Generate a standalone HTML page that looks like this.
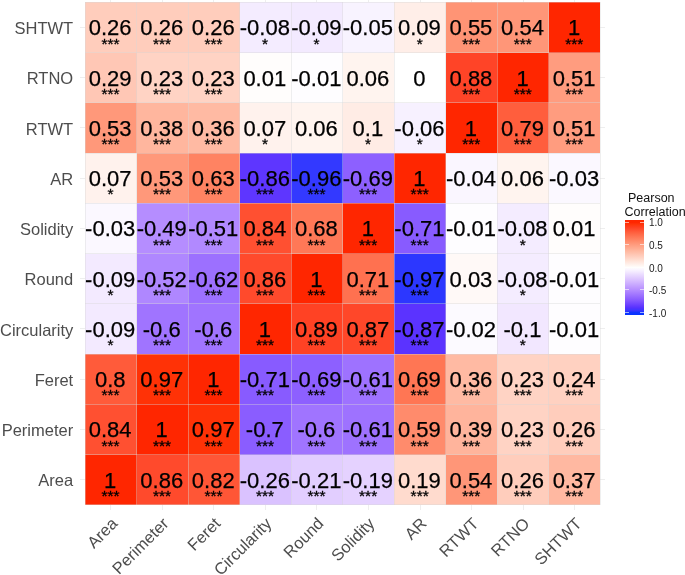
<!DOCTYPE html>
<html lang="en"><head><meta charset="utf-8"><title>Pearson Correlation heatmap</title>
<style>
html,body{margin:0;padding:0;background:#fff;}
body{width:685px;height:575px;position:relative;overflow:hidden;font-family:"Liberation Sans",Arial,sans-serif;}
.c{position:absolute;box-sizing:border-box;}
.n{position:absolute;left:-20.6px;right:-19.4px;-webkit-text-stroke:0.25px #000;text-align:center;color:#000;font-size:22.0px;line-height:22.0px;white-space:nowrap;}
.s{position:absolute;left:-20.35px;right:-19.65px;-webkit-text-stroke:0.3px #000;text-align:center;color:#000;font-size:15.5px;line-height:15.5px;white-space:nowrap;}
.yl{position:absolute;left:0;width:73.2px;text-align:right;color:#4d4d4d;font-size:16.5px;line-height:20px;height:20px;white-space:nowrap;}
.xl{position:absolute;color:#4d4d4d;font-size:16.5px;line-height:19px;height:19px;white-space:nowrap;transform-origin:100% 0;transform:rotate(-45deg);text-align:right;width:140px;}
.g{position:absolute;background:#eeeeee;}
.vl{position:absolute;background:rgba(214,214,214,0.4);width:1px;}
.hl{position:absolute;background:rgba(214,214,214,0.4);height:1px;}
.lt{position:absolute;color:#111;font-size:12.5px;line-height:13.6px;white-space:nowrap;}
.ll{position:absolute;left:649px;color:#1a1a1a;font-size:10px;line-height:12px;height:12px;white-space:nowrap;}
.tk{position:absolute;height:1px;width:4px;background:rgba(255,255,255,0.6);}

</style></head><body><div id="plot" style="position:absolute;left:0;top:0;width:685px;height:575px">
<div class="g" style="left:110.27px;top:0;width:1px;height:509.90px"></div>
<div class="g" style="top:26.88px;left:80.00px;height:1px;width:525.40px"></div>
<div class="g" style="left:161.81px;top:0;width:1px;height:509.90px"></div>
<div class="g" style="top:77.15px;left:80.00px;height:1px;width:525.40px"></div>
<div class="g" style="left:213.35px;top:0;width:1px;height:509.90px"></div>
<div class="g" style="top:127.41px;left:80.00px;height:1px;width:525.40px"></div>
<div class="g" style="left:264.89px;top:0;width:1px;height:509.90px"></div>
<div class="g" style="top:177.68px;left:80.00px;height:1px;width:525.40px"></div>
<div class="g" style="left:316.43px;top:0;width:1px;height:509.90px"></div>
<div class="g" style="top:227.94px;left:80.00px;height:1px;width:525.40px"></div>
<div class="g" style="left:367.97px;top:0;width:1px;height:509.90px"></div>
<div class="g" style="top:278.21px;left:80.00px;height:1px;width:525.40px"></div>
<div class="g" style="left:419.51px;top:0;width:1px;height:509.90px"></div>
<div class="g" style="top:328.47px;left:80.00px;height:1px;width:525.40px"></div>
<div class="g" style="left:471.05px;top:0;width:1px;height:509.90px"></div>
<div class="g" style="top:378.74px;left:80.00px;height:1px;width:525.40px"></div>
<div class="g" style="left:522.59px;top:0;width:1px;height:509.90px"></div>
<div class="g" style="top:429.00px;left:80.00px;height:1px;width:525.40px"></div>
<div class="g" style="left:574.13px;top:0;width:1px;height:509.90px"></div>
<div class="g" style="top:479.27px;left:80.00px;height:1px;width:525.40px"></div>
<div class="c" style="left:85.00px;top:2.25px;width:51.59px;height:50.31px;background:#ffcdbc">
<div class="n" style="top:15.03px">0.26</div>
<div class="s" style="top:33.32px">***</div>
</div>
<div class="c" style="left:136.54px;top:2.25px;width:51.59px;height:50.31px;background:#ffcdbc">
<div class="n" style="top:15.03px">0.26</div>
<div class="s" style="top:33.32px">***</div>
</div>
<div class="c" style="left:188.08px;top:2.25px;width:51.59px;height:50.31px;background:#ffcdbc">
<div class="n" style="top:15.03px">0.26</div>
<div class="s" style="top:33.32px">***</div>
</div>
<div class="c" style="left:239.62px;top:2.25px;width:51.59px;height:50.31px;background:#f4ecff">
<div class="n" style="top:15.03px">-0.08</div>
<div class="s" style="top:33.32px">*</div>
</div>
<div class="c" style="left:291.16px;top:2.25px;width:51.59px;height:50.31px;background:#f3eaff">
<div class="n" style="top:15.03px">-0.09</div>
<div class="s" style="top:33.32px">*</div>
</div>
<div class="c" style="left:342.70px;top:2.25px;width:51.59px;height:50.31px;background:#f8f3ff">
<div class="n" style="top:15.03px">-0.05</div>
</div>
<div class="c" style="left:394.24px;top:2.25px;width:51.59px;height:50.31px;background:#ffeee8">
<div class="n" style="top:15.03px">0.09</div>
<div class="s" style="top:33.32px">*</div>
</div>
<div class="c" style="left:445.78px;top:2.25px;width:51.59px;height:50.31px;background:#ff9475">
<div class="n" style="top:15.03px">0.55</div>
<div class="s" style="top:33.32px">***</div>
</div>
<div class="c" style="left:497.32px;top:2.25px;width:51.59px;height:50.31px;background:#ff9678">
<div class="n" style="top:15.03px">0.54</div>
<div class="s" style="top:33.32px">***</div>
</div>
<div class="c" style="left:548.86px;top:2.25px;width:51.59px;height:50.31px;background:#ff2600">
<div class="n" style="top:15.03px">1</div>
<div class="s" style="top:33.32px">***</div>
</div>
<div class="c" style="left:85.00px;top:52.52px;width:51.59px;height:50.31px;background:#ffc7b5">
<div class="n" style="top:15.03px">0.29</div>
<div class="s" style="top:33.32px">***</div>
</div>
<div class="c" style="left:136.54px;top:52.52px;width:51.59px;height:50.31px;background:#ffd3c4">
<div class="n" style="top:15.03px">0.23</div>
<div class="s" style="top:33.32px">***</div>
</div>
<div class="c" style="left:188.08px;top:52.52px;width:51.59px;height:50.31px;background:#ffd3c4">
<div class="n" style="top:15.03px">0.23</div>
<div class="s" style="top:33.32px">***</div>
</div>
<div class="c" style="left:239.62px;top:52.52px;width:51.59px;height:50.31px;background:#fffdfc">
<div class="n" style="top:15.03px">0.01</div>
</div>
<div class="c" style="left:291.16px;top:52.52px;width:51.59px;height:50.31px;background:#fefdff">
<div class="n" style="top:15.03px">-0.01</div>
</div>
<div class="c" style="left:342.70px;top:52.52px;width:51.59px;height:50.31px;background:#fff4ef">
<div class="n" style="top:15.03px">0.06</div>
</div>
<div class="c" style="left:394.24px;top:52.52px;width:51.59px;height:50.31px;background:#ffffff">
<div class="n" style="top:15.03px">0</div>
</div>
<div class="c" style="left:445.78px;top:52.52px;width:51.59px;height:50.31px;background:#ff4427">
<div class="n" style="top:15.03px">0.88</div>
<div class="s" style="top:33.32px">***</div>
</div>
<div class="c" style="left:497.32px;top:52.52px;width:51.59px;height:50.31px;background:#ff2600">
<div class="n" style="top:15.03px">1</div>
<div class="s" style="top:33.32px">***</div>
</div>
<div class="c" style="left:548.86px;top:52.52px;width:51.59px;height:50.31px;background:#ff9c7f">
<div class="n" style="top:15.03px">0.51</div>
<div class="s" style="top:33.32px">***</div>
</div>
<div class="c" style="left:85.00px;top:102.78px;width:51.59px;height:50.31px;background:#ff987a">
<div class="n" style="top:15.03px">0.53</div>
<div class="s" style="top:33.32px">***</div>
</div>
<div class="c" style="left:136.54px;top:102.78px;width:51.59px;height:50.31px;background:#ffb69e">
<div class="n" style="top:15.03px">0.38</div>
<div class="s" style="top:33.32px">***</div>
</div>
<div class="c" style="left:188.08px;top:102.78px;width:51.59px;height:50.31px;background:#ffbaa3">
<div class="n" style="top:15.03px">0.36</div>
<div class="s" style="top:33.32px">***</div>
</div>
<div class="c" style="left:239.62px;top:102.78px;width:51.59px;height:50.31px;background:#fff2ed">
<div class="n" style="top:15.03px">0.07</div>
<div class="s" style="top:33.32px">*</div>
</div>
<div class="c" style="left:291.16px;top:102.78px;width:51.59px;height:50.31px;background:#fff4ef">
<div class="n" style="top:15.03px">0.06</div>
</div>
<div class="c" style="left:342.70px;top:102.78px;width:51.59px;height:50.31px;background:#ffece5">
<div class="n" style="top:15.03px">0.1</div>
<div class="s" style="top:33.32px">*</div>
</div>
<div class="c" style="left:394.24px;top:102.78px;width:51.59px;height:50.31px;background:#f7f1ff">
<div class="n" style="top:15.03px">-0.06</div>
<div class="s" style="top:33.32px">*</div>
</div>
<div class="c" style="left:445.78px;top:102.78px;width:51.59px;height:50.31px;background:#ff2600">
<div class="n" style="top:15.03px">1</div>
<div class="s" style="top:33.32px">***</div>
</div>
<div class="c" style="left:497.32px;top:102.78px;width:51.59px;height:50.31px;background:#ff5e3d">
<div class="n" style="top:15.03px">0.79</div>
<div class="s" style="top:33.32px">***</div>
</div>
<div class="c" style="left:548.86px;top:102.78px;width:51.59px;height:50.31px;background:#ff9c7f">
<div class="n" style="top:15.03px">0.51</div>
<div class="s" style="top:33.32px">***</div>
</div>
<div class="c" style="left:85.00px;top:153.05px;width:51.59px;height:50.31px;background:#fff2ed">
<div class="n" style="top:15.03px">0.07</div>
<div class="s" style="top:33.32px">*</div>
</div>
<div class="c" style="left:136.54px;top:153.05px;width:51.59px;height:50.31px;background:#ff987a">
<div class="n" style="top:15.03px">0.53</div>
<div class="s" style="top:33.32px">***</div>
</div>
<div class="c" style="left:188.08px;top:153.05px;width:51.59px;height:50.31px;background:#ff8362">
<div class="n" style="top:15.03px">0.63</div>
<div class="s" style="top:33.32px">***</div>
</div>
<div class="c" style="left:239.62px;top:153.05px;width:51.59px;height:50.31px;background:#5e36ff">
<div class="n" style="top:15.03px">-0.86</div>
<div class="s" style="top:33.32px">***</div>
</div>
<div class="c" style="left:291.16px;top:153.05px;width:51.59px;height:50.31px;background:#3339ff">
<div class="n" style="top:15.03px">-0.96</div>
<div class="s" style="top:33.32px">***</div>
</div>
<div class="c" style="left:342.70px;top:153.05px;width:51.59px;height:50.31px;background:#8d60ff">
<div class="n" style="top:15.03px">-0.69</div>
<div class="s" style="top:33.32px">***</div>
</div>
<div class="c" style="left:394.24px;top:153.05px;width:51.59px;height:50.31px;background:#ff2600">
<div class="n" style="top:15.03px">1</div>
<div class="s" style="top:33.32px">***</div>
</div>
<div class="c" style="left:445.78px;top:153.05px;width:51.59px;height:50.31px;background:#faf6ff">
<div class="n" style="top:15.03px">-0.04</div>
</div>
<div class="c" style="left:497.32px;top:153.05px;width:51.59px;height:50.31px;background:#fff4ef">
<div class="n" style="top:15.03px">0.06</div>
</div>
<div class="c" style="left:548.86px;top:153.05px;width:51.59px;height:50.31px;background:#fbf8ff">
<div class="n" style="top:15.03px">-0.03</div>
</div>
<div class="c" style="left:85.00px;top:203.31px;width:51.59px;height:50.31px;background:#fbf8ff">
<div class="n" style="top:15.03px">-0.03</div>
</div>
<div class="c" style="left:136.54px;top:203.31px;width:51.59px;height:50.31px;background:#b58dff">
<div class="n" style="top:15.03px">-0.49</div>
<div class="s" style="top:33.32px">***</div>
</div>
<div class="c" style="left:188.08px;top:203.31px;width:51.59px;height:50.31px;background:#b189ff">
<div class="n" style="top:15.03px">-0.51</div>
<div class="s" style="top:33.32px">***</div>
</div>
<div class="c" style="left:239.62px;top:203.31px;width:51.59px;height:50.31px;background:#ff5031">
<div class="n" style="top:15.03px">0.84</div>
<div class="s" style="top:33.32px">***</div>
</div>
<div class="c" style="left:291.16px;top:203.31px;width:51.59px;height:50.31px;background:#ff7857">
<div class="n" style="top:15.03px">0.68</div>
<div class="s" style="top:33.32px">***</div>
</div>
<div class="c" style="left:342.70px;top:203.31px;width:51.59px;height:50.31px;background:#ff2600">
<div class="n" style="top:15.03px">1</div>
<div class="s" style="top:33.32px">***</div>
</div>
<div class="c" style="left:394.24px;top:203.31px;width:51.59px;height:50.31px;background:#885bff">
<div class="n" style="top:15.03px">-0.71</div>
<div class="s" style="top:33.32px">***</div>
</div>
<div class="c" style="left:445.78px;top:203.31px;width:51.59px;height:50.31px;background:#fefdff">
<div class="n" style="top:15.03px">-0.01</div>
</div>
<div class="c" style="left:497.32px;top:203.31px;width:51.59px;height:50.31px;background:#f4ecff">
<div class="n" style="top:15.03px">-0.08</div>
<div class="s" style="top:33.32px">*</div>
</div>
<div class="c" style="left:548.86px;top:203.31px;width:51.59px;height:50.31px;background:#fffdfc">
<div class="n" style="top:15.03px">0.01</div>
</div>
<div class="c" style="left:85.00px;top:253.57px;width:51.59px;height:50.31px;background:#f3eaff">
<div class="n" style="top:15.03px">-0.09</div>
<div class="s" style="top:33.32px">*</div>
</div>
<div class="c" style="left:136.54px;top:253.57px;width:51.59px;height:50.31px;background:#af87ff">
<div class="n" style="top:15.03px">-0.52</div>
<div class="s" style="top:33.32px">***</div>
</div>
<div class="c" style="left:188.08px;top:253.57px;width:51.59px;height:50.31px;background:#9c70ff">
<div class="n" style="top:15.03px">-0.62</div>
<div class="s" style="top:33.32px">***</div>
</div>
<div class="c" style="left:239.62px;top:253.57px;width:51.59px;height:50.31px;background:#ff4a2c">
<div class="n" style="top:15.03px">0.86</div>
<div class="s" style="top:33.32px">***</div>
</div>
<div class="c" style="left:291.16px;top:253.57px;width:51.59px;height:50.31px;background:#ff2600">
<div class="n" style="top:15.03px">1</div>
<div class="s" style="top:33.32px">***</div>
</div>
<div class="c" style="left:342.70px;top:253.57px;width:51.59px;height:50.31px;background:#ff7150">
<div class="n" style="top:15.03px">0.71</div>
<div class="s" style="top:33.32px">***</div>
</div>
<div class="c" style="left:394.24px;top:253.57px;width:51.59px;height:50.31px;background:#2c37ff">
<div class="n" style="top:15.03px">-0.97</div>
<div class="s" style="top:33.32px">***</div>
</div>
<div class="c" style="left:445.78px;top:253.57px;width:51.59px;height:50.31px;background:#fff9f7">
<div class="n" style="top:15.03px">0.03</div>
</div>
<div class="c" style="left:497.32px;top:253.57px;width:51.59px;height:50.31px;background:#f4ecff">
<div class="n" style="top:15.03px">-0.08</div>
<div class="s" style="top:33.32px">*</div>
</div>
<div class="c" style="left:548.86px;top:253.57px;width:51.59px;height:50.31px;background:#fefdff">
<div class="n" style="top:15.03px">-0.01</div>
</div>
<div class="c" style="left:85.00px;top:303.84px;width:51.59px;height:50.31px;background:#f3eaff">
<div class="n" style="top:15.03px">-0.09</div>
<div class="s" style="top:33.32px">*</div>
</div>
<div class="c" style="left:136.54px;top:303.84px;width:51.59px;height:50.31px;background:#a074ff">
<div class="n" style="top:15.03px">-0.6</div>
<div class="s" style="top:33.32px">***</div>
</div>
<div class="c" style="left:188.08px;top:303.84px;width:51.59px;height:50.31px;background:#a074ff">
<div class="n" style="top:15.03px">-0.6</div>
<div class="s" style="top:33.32px">***</div>
</div>
<div class="c" style="left:239.62px;top:303.84px;width:51.59px;height:50.31px;background:#ff2600">
<div class="n" style="top:15.03px">1</div>
<div class="s" style="top:33.32px">***</div>
</div>
<div class="c" style="left:291.16px;top:303.84px;width:51.59px;height:50.31px;background:#ff4224">
<div class="n" style="top:15.03px">0.89</div>
<div class="s" style="top:33.32px">***</div>
</div>
<div class="c" style="left:342.70px;top:303.84px;width:51.59px;height:50.31px;background:#ff4729">
<div class="n" style="top:15.03px">0.87</div>
<div class="s" style="top:33.32px">***</div>
</div>
<div class="c" style="left:394.24px;top:303.84px;width:51.59px;height:50.31px;background:#5b33ff">
<div class="n" style="top:15.03px">-0.87</div>
<div class="s" style="top:33.32px">***</div>
</div>
<div class="c" style="left:445.78px;top:303.84px;width:51.59px;height:50.31px;background:#fcfaff">
<div class="n" style="top:15.03px">-0.02</div>
</div>
<div class="c" style="left:497.32px;top:303.84px;width:51.59px;height:50.31px;background:#f2e7ff">
<div class="n" style="top:15.03px">-0.1</div>
<div class="s" style="top:33.32px">*</div>
</div>
<div class="c" style="left:548.86px;top:303.84px;width:51.59px;height:50.31px;background:#fefdff">
<div class="n" style="top:15.03px">-0.01</div>
</div>
<div class="c" style="left:85.00px;top:354.11px;width:51.59px;height:50.31px;background:#ff5b3a">
<div class="n" style="top:15.03px">0.8</div>
<div class="s" style="top:33.32px">***</div>
</div>
<div class="c" style="left:136.54px;top:354.11px;width:51.59px;height:50.31px;background:#ff3206">
<div class="n" style="top:15.03px">0.97</div>
<div class="s" style="top:33.32px">***</div>
</div>
<div class="c" style="left:188.08px;top:354.11px;width:51.59px;height:50.31px;background:#ff2600">
<div class="n" style="top:15.03px">1</div>
<div class="s" style="top:33.32px">***</div>
</div>
<div class="c" style="left:239.62px;top:354.11px;width:51.59px;height:50.31px;background:#885bff">
<div class="n" style="top:15.03px">-0.71</div>
<div class="s" style="top:33.32px">***</div>
</div>
<div class="c" style="left:291.16px;top:354.11px;width:51.59px;height:50.31px;background:#8d60ff">
<div class="n" style="top:15.03px">-0.69</div>
<div class="s" style="top:33.32px">***</div>
</div>
<div class="c" style="left:342.70px;top:354.11px;width:51.59px;height:50.31px;background:#9e72ff">
<div class="n" style="top:15.03px">-0.61</div>
<div class="s" style="top:33.32px">***</div>
</div>
<div class="c" style="left:394.24px;top:354.11px;width:51.59px;height:50.31px;background:#ff7654">
<div class="n" style="top:15.03px">0.69</div>
<div class="s" style="top:33.32px">***</div>
</div>
<div class="c" style="left:445.78px;top:354.11px;width:51.59px;height:50.31px;background:#ffbaa3">
<div class="n" style="top:15.03px">0.36</div>
<div class="s" style="top:33.32px">***</div>
</div>
<div class="c" style="left:497.32px;top:354.11px;width:51.59px;height:50.31px;background:#ffd3c4">
<div class="n" style="top:15.03px">0.23</div>
<div class="s" style="top:33.32px">***</div>
</div>
<div class="c" style="left:548.86px;top:354.11px;width:51.59px;height:50.31px;background:#ffd1c1">
<div class="n" style="top:15.03px">0.24</div>
<div class="s" style="top:33.32px">***</div>
</div>
<div class="c" style="left:85.00px;top:404.37px;width:51.59px;height:50.31px;background:#ff5031">
<div class="n" style="top:15.03px">0.84</div>
<div class="s" style="top:33.32px">***</div>
</div>
<div class="c" style="left:136.54px;top:404.37px;width:51.59px;height:50.31px;background:#ff2600">
<div class="n" style="top:15.03px">1</div>
<div class="s" style="top:33.32px">***</div>
</div>
<div class="c" style="left:188.08px;top:404.37px;width:51.59px;height:50.31px;background:#ff3206">
<div class="n" style="top:15.03px">0.97</div>
<div class="s" style="top:33.32px">***</div>
</div>
<div class="c" style="left:239.62px;top:404.37px;width:51.59px;height:50.31px;background:#8a5dff">
<div class="n" style="top:15.03px">-0.7</div>
<div class="s" style="top:33.32px">***</div>
</div>
<div class="c" style="left:291.16px;top:404.37px;width:51.59px;height:50.31px;background:#a074ff">
<div class="n" style="top:15.03px">-0.6</div>
<div class="s" style="top:33.32px">***</div>
</div>
<div class="c" style="left:342.70px;top:404.37px;width:51.59px;height:50.31px;background:#9e72ff">
<div class="n" style="top:15.03px">-0.61</div>
<div class="s" style="top:33.32px">***</div>
</div>
<div class="c" style="left:394.24px;top:404.37px;width:51.59px;height:50.31px;background:#ff8b6c">
<div class="n" style="top:15.03px">0.59</div>
<div class="s" style="top:33.32px">***</div>
</div>
<div class="c" style="left:445.78px;top:404.37px;width:51.59px;height:50.31px;background:#ffb49c">
<div class="n" style="top:15.03px">0.39</div>
<div class="s" style="top:33.32px">***</div>
</div>
<div class="c" style="left:497.32px;top:404.37px;width:51.59px;height:50.31px;background:#ffd3c4">
<div class="n" style="top:15.03px">0.23</div>
<div class="s" style="top:33.32px">***</div>
</div>
<div class="c" style="left:548.86px;top:404.37px;width:51.59px;height:50.31px;background:#ffcdbc">
<div class="n" style="top:15.03px">0.26</div>
<div class="s" style="top:33.32px">***</div>
</div>
<div class="c" style="left:85.00px;top:454.63px;width:51.59px;height:50.31px;background:#ff2600">
<div class="n" style="top:15.03px">1</div>
<div class="s" style="top:33.32px">***</div>
</div>
<div class="c" style="left:136.54px;top:454.63px;width:51.59px;height:50.31px;background:#ff4a2c">
<div class="n" style="top:15.03px">0.86</div>
<div class="s" style="top:33.32px">***</div>
</div>
<div class="c" style="left:188.08px;top:454.63px;width:51.59px;height:50.31px;background:#ff5636">
<div class="n" style="top:15.03px">0.82</div>
<div class="s" style="top:33.32px">***</div>
</div>
<div class="c" style="left:239.62px;top:454.63px;width:51.59px;height:50.31px;background:#dac2ff">
<div class="n" style="top:15.03px">-0.26</div>
<div class="s" style="top:33.32px">***</div>
</div>
<div class="c" style="left:291.16px;top:454.63px;width:51.59px;height:50.31px;background:#e2ceff">
<div class="n" style="top:15.03px">-0.21</div>
<div class="s" style="top:33.32px">***</div>
</div>
<div class="c" style="left:342.70px;top:454.63px;width:51.59px;height:50.31px;background:#e5d2ff">
<div class="n" style="top:15.03px">-0.19</div>
<div class="s" style="top:33.32px">***</div>
</div>
<div class="c" style="left:394.24px;top:454.63px;width:51.59px;height:50.31px;background:#ffdbce">
<div class="n" style="top:15.03px">0.19</div>
<div class="s" style="top:33.32px">***</div>
</div>
<div class="c" style="left:445.78px;top:454.63px;width:51.59px;height:50.31px;background:#ff9678">
<div class="n" style="top:15.03px">0.54</div>
<div class="s" style="top:33.32px">***</div>
</div>
<div class="c" style="left:497.32px;top:454.63px;width:51.59px;height:50.31px;background:#ffcdbc">
<div class="n" style="top:15.03px">0.26</div>
<div class="s" style="top:33.32px">***</div>
</div>
<div class="c" style="left:548.86px;top:454.63px;width:51.59px;height:50.31px;background:#ffb8a1">
<div class="n" style="top:15.03px">0.37</div>
<div class="s" style="top:33.32px">***</div>
</div>
<div class="vl" style="left:84.50px;top:2.25px;height:502.65px"></div>
<div class="hl" style="top:1.75px;left:85.00px;width:515.40px"></div>
<div class="vl" style="left:136.04px;top:2.25px;height:502.65px"></div>
<div class="hl" style="top:52.02px;left:85.00px;width:515.40px"></div>
<div class="vl" style="left:187.58px;top:2.25px;height:502.65px"></div>
<div class="hl" style="top:102.28px;left:85.00px;width:515.40px"></div>
<div class="vl" style="left:239.12px;top:2.25px;height:502.65px"></div>
<div class="hl" style="top:152.55px;left:85.00px;width:515.40px"></div>
<div class="vl" style="left:290.66px;top:2.25px;height:502.65px"></div>
<div class="hl" style="top:202.81px;left:85.00px;width:515.40px"></div>
<div class="vl" style="left:342.20px;top:2.25px;height:502.65px"></div>
<div class="hl" style="top:253.07px;left:85.00px;width:515.40px"></div>
<div class="vl" style="left:393.74px;top:2.25px;height:502.65px"></div>
<div class="hl" style="top:303.34px;left:85.00px;width:515.40px"></div>
<div class="vl" style="left:445.28px;top:2.25px;height:502.65px"></div>
<div class="hl" style="top:353.61px;left:85.00px;width:515.40px"></div>
<div class="vl" style="left:496.82px;top:2.25px;height:502.65px"></div>
<div class="hl" style="top:403.87px;left:85.00px;width:515.40px"></div>
<div class="vl" style="left:548.36px;top:2.25px;height:502.65px"></div>
<div class="hl" style="top:454.13px;left:85.00px;width:515.40px"></div>
<div class="vl" style="left:599.90px;top:2.25px;height:502.65px"></div>
<div class="hl" style="top:504.40px;left:85.00px;width:515.40px"></div>
<div class="yl" style="top:18.08px">SHTWT</div>
<div class="yl" style="top:68.35px">RTNO</div>
<div class="yl" style="top:118.61px">RTWT</div>
<div class="yl" style="top:168.88px">AR</div>
<div class="yl" style="top:219.14px">Solidity</div>
<div class="yl" style="top:269.41px">Round</div>
<div class="yl" style="top:319.67px">Circularity</div>
<div class="yl" style="top:369.94px">Feret</div>
<div class="yl" style="top:420.20px">Perimeter</div>
<div class="yl" style="top:470.47px">Area</div>
<div class="xl" style="left:-32.23px;top:513.90px">Area</div>
<div class="xl" style="left:19.31px;top:513.90px">Perimeter</div>
<div class="xl" style="left:70.85px;top:513.90px">Feret</div>
<div class="xl" style="left:122.39px;top:513.90px">Circularity</div>
<div class="xl" style="left:173.93px;top:513.90px">Round</div>
<div class="xl" style="left:225.47px;top:513.90px">Solidity</div>
<div class="xl" style="left:277.01px;top:513.90px">AR</div>
<div class="xl" style="left:328.55px;top:513.90px">RTWT</div>
<div class="xl" style="left:380.09px;top:513.90px">RTNO</div>
<div class="xl" style="left:431.63px;top:513.90px">SHTWT</div>
<div class="lt" style="left:624.5px;top:192.3px;white-space:pre"> Pearson</div>
<div class="lt" style="left:624.5px;top:205.9px">Correlation</div>
<div style="position:absolute;left:624.80px;top:219.50px;width:19.20px;height:95.20px;background:linear-gradient(to bottom,#ff2600 0.00%,#ff2600 2.50%,#ff360c 5.00%,#ff3f20 7.50%,#ff4d2e 10.00%,#ff5c3b 12.50%,#ff6947 15.00%,#ff7554 17.50%,#ff8160 20.00%,#ff8c6c 22.50%,#ff9779 25.00%,#ffa286 27.50%,#ffac92 30.00%,#ffb79f 32.50%,#ffc1ac 35.00%,#ffcbba 37.50%,#ffd5c7 40.00%,#ffe0d4 42.50%,#ffeae2 45.00%,#fff4ef 47.50%,#fffefd 50.00%,#f9f4ff 52.50%,#f2e8ff 55.00%,#eadbff 57.50%,#e3cfff 60.00%,#dbc3ff 62.50%,#d3b7ff 65.00%,#caabff 67.50%,#c29eff 70.00%,#b992ff 72.50%,#af86ff 75.00%,#a57aff 77.50%,#9a6eff 80.00%,#8f62ff 82.50%,#8356ff 85.00%,#7549ff 87.50%,#663cff 90.00%,#5431ff 92.50%,#3d35ff 95.00%,#0e33ff 97.50%,#0433ff 100.00%)"></div>
<div class="tk" style="left:624.80px;top:221.80px"></div>
<div class="tk" style="left:640.00px;top:221.80px"></div>
<div class="ll" style="top:217.40px">1.0</div>
<div class="tk" style="left:624.80px;top:244.35px"></div>
<div class="tk" style="left:640.00px;top:244.35px"></div>
<div class="ll" style="top:239.95px">0.5</div>
<div class="tk" style="left:624.80px;top:266.90px"></div>
<div class="tk" style="left:640.00px;top:266.90px"></div>
<div class="ll" style="top:262.50px">0.0</div>
<div class="tk" style="left:624.80px;top:289.45px"></div>
<div class="tk" style="left:640.00px;top:289.45px"></div>
<div class="ll" style="top:285.05px">-0.5</div>
<div class="tk" style="left:624.80px;top:312.00px"></div>
<div class="tk" style="left:640.00px;top:312.00px"></div>
<div class="ll" style="top:307.60px">-1.0</div>
</div></body></html>
